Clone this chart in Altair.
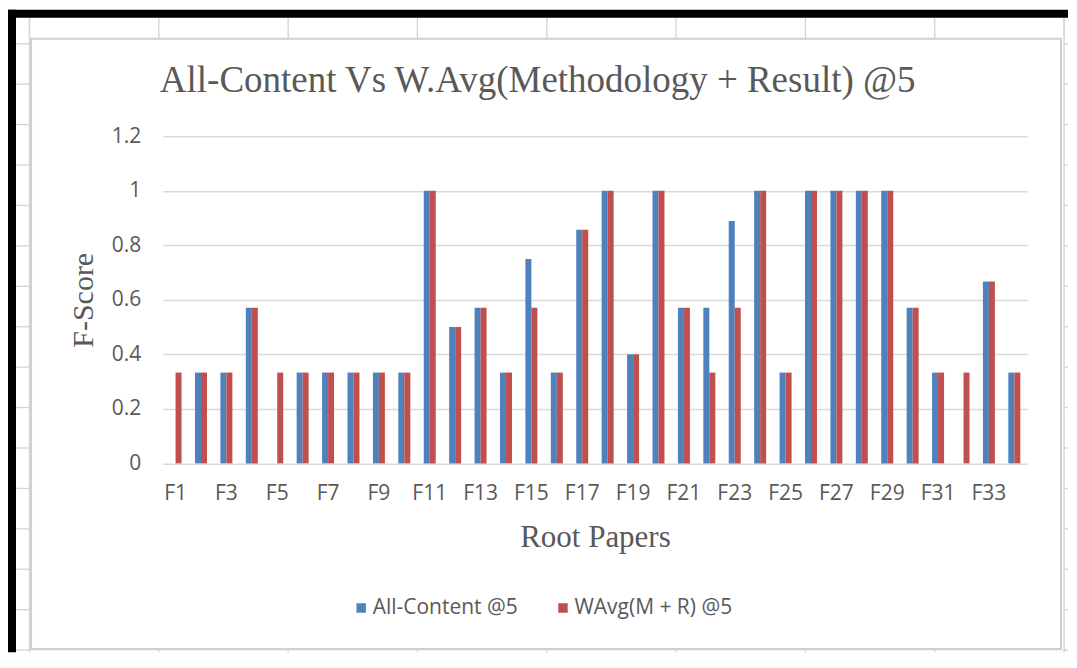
import altair as alt
import pandas as pd

# ---------------- data ----------------
papers = [f"F{i}" for i in range(1, 35)]
all_content = [0, 0.333, 0.333, 0.571, 0, 0.333, 0.333, 0.333, 0.333, 0.333,
               1, 0.5, 0.571, 0.333, 0.75, 0.333, 0.857, 1, 0.4, 1,
               0.571, 0.571, 0.889, 1, 0.333, 1, 1, 1, 1, 0.571,
               0.333, 0, 0.667, 0.333]
wavg = [0.333, 0.333, 0.333, 0.571, 0.333, 0.333, 0.333, 0.333, 0.333, 0.333,
        1, 0.5, 0.571, 0.333, 0.571, 0.333, 0.857, 1, 0.4, 1,
        0.571, 0.333, 0.571, 1, 0.333, 1, 1, 1, 1, 0.571,
        0.333, 0.333, 0.667, 0.333]
series = ["All-Content @5", "WAvg(M + R) @5"]
colors = ["#4F81BD", "#C0504D"]
y_ticks = [0, 0.2, 0.4, 0.6, 0.8, 1.0, 1.2]
title_text = "All-Content Vs W.Avg(Methodology + Result) @5"

df = pd.DataFrame({
    "paper": papers * 2,
    "series": [series[0]] * len(papers) + [series[1]] * len(papers),
    "value": all_content + wavg,
})

# ---------------- layout (page pixels -> plot pixels) ----------------
OX, OY = 163, 135.5
PW, PH = 865, 327.5


def px(x):
    return x - OX


def py(y):
    return y - OY


one = pd.DataFrame({"d": [0]})
CELL = "#D4D4D4"
GRAY = "#595959"


def rect(x1, x2, y1, y2, color):
    return alt.Chart(one).mark_rect(color=color).encode(
        x=alt.value(px(x1)), x2=alt.value(px(x2)),
        y=alt.value(py(y1)), y2=alt.value(py(y2)))


def vline(x, y1, y2, color=CELL, w=1.3):
    return alt.Chart(one).mark_rule(color=color, strokeWidth=w).encode(
        x=alt.value(px(x)), y=alt.value(py(y1)), y2=alt.value(py(y2)))


def hline(y, x1, x2, color=CELL, w=1.3):
    return alt.Chart(one).mark_rule(color=color, strokeWidth=w).encode(
        x=alt.value(px(x1)), x2=alt.value(px(x2)), y=alt.value(py(y)))


TOP, BOTTOM, LEFT, RIGHT = 9, 652, 8, 1069
col_x = [29.5 + 129.45 * k for k in range(9)]
row_y = [43 + 40.46 * k for k in range(16)]

deco = []
# spreadsheet cell lines around the chart object
for cx in col_x:
    deco.append(vline(cx, 17, 38))
    deco.append(vline(cx, 649, BOTTOM))
deco.append(vline(col_x[0], 17, BOTTOM))
deco.append(vline(col_x[-1], 17, BOTTOM))
for ry in row_y:
    deco.append(hline(ry, 16, col_x[0]))
    deco.append(hline(ry, col_x[-1], RIGHT))
# chart object border
deco.append(alt.Chart(one).mark_rect(fill="white", fillOpacity=0, stroke="#D0D0D0",
                                     strokeWidth=2.2).encode(
    x=alt.value(px(31)), x2=alt.value(px(1062)),
    y=alt.value(py(38)), y2=alt.value(py(649))))
# black frame
deco.append(rect(LEFT, RIGHT, TOP, 17, "black"))
deco.append(rect(LEFT, 16, TOP, BOTTOM, "black"))

# ---------------- bars ----------------
bars = alt.Chart(df).mark_bar().encode(
    x=alt.X("paper:N", sort=papers,
            scale=alt.Scale(paddingInner=0.528, paddingOuter=0.264),
            axis=alt.Axis(values=papers[::2], ticks=False, domain=False, grid=False,
                          labelAngle=0, labelFont="Open Sans", labelFontSize=21,
                          labelColor=GRAY, labelPadding=19,
                          title="Root Papers", titleFont="Liberation Serif",
                          titleFontSize=31, titleFontWeight="normal", titleColor=GRAY,
                          titleX=PW / 2, titleY=74, titleBaseline="middle",
                          titleAlign="center")),
    xOffset=alt.XOffset("series:N", sort=series,
                        scale=alt.Scale(paddingInner=0, paddingOuter=0)),
    y=alt.Y("value:Q", scale=alt.Scale(domain=[0, 1.2], nice=False),
            axis=alt.Axis(values=y_ticks, format="~g", ticks=False, domain=False,
                          grid=True, gridColor="#D9D9D9", gridWidth=1.5,
                          labelFont="Open Sans", labelFontSize=21, labelColor=GRAY,
                          labelPadding=22,
                          title="F-Score", titleFont="Liberation Serif",
                          titleFontSize=30, titleFontWeight="normal", titleColor=GRAY,
                          titleX=-79.5, titleY=PH / 2, titleAngle=270,
                          titleBaseline="middle", titleAlign="center")),
    color=alt.Color("series:N", sort=series,
                    scale=alt.Scale(domain=series, range=colors),
                    legend=alt.Legend(title=None, orient="none", direction="horizontal",
                                      legendX=px(351), legendY=py(597),
                                      symbolType="square", symbolSize=90,
                                      symbolStrokeWidth=0,
                                      labelFont="Open Sans", labelFontSize=21,
                                      labelColor=GRAY, labelOffset=1,
                                      columnPadding=34, padding=0)),
)

title = alt.Chart(one).mark_text(
    text=title_text, font="Liberation Serif", fontSize=37, color=GRAY,
    align="left", baseline="middle").encode(
    x=alt.value(px(160)), y=alt.value(py(80)))

chart = alt.layer(*deco, bars, title).properties(
    width=PW, height=PH,
    padding={"left": 0, "top": 1, "right": 0, "bottom": 0},
).configure(background="white").configure_view(stroke="transparent")

chart.save("out.html", embed_options={"renderer": "svg", "actions": False})
